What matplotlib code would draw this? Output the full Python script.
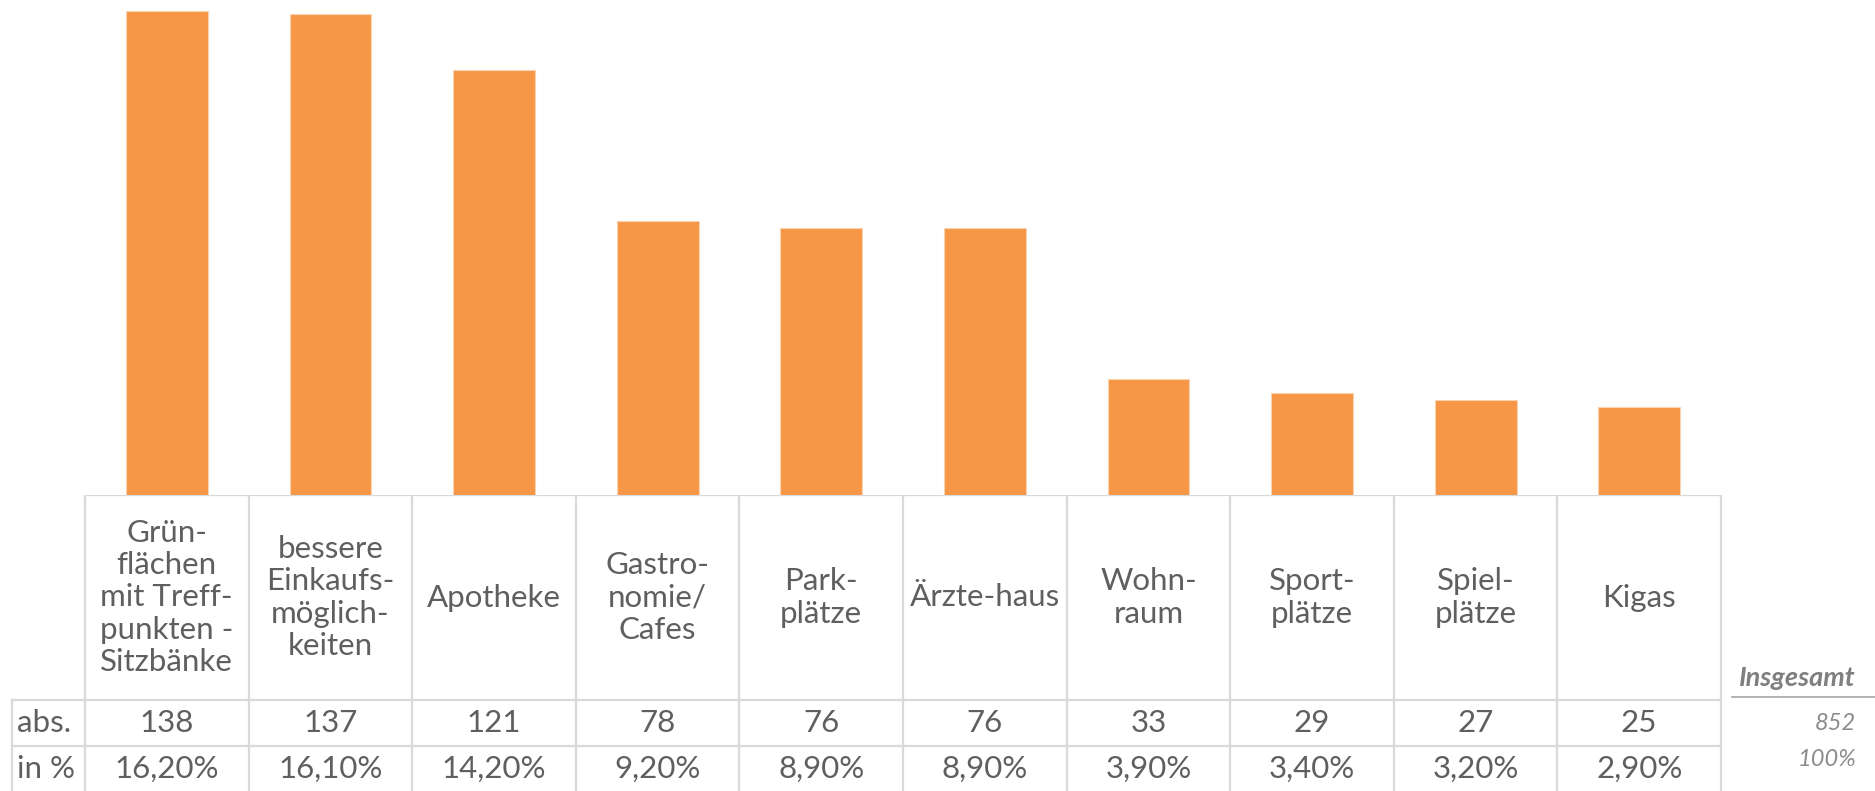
import matplotlib.pyplot as plt

plt.rcParams['font.family'] = ['Lato', 'DejaVu Sans']

categories = ["Grün-\nflächen\nmit Treff-\npunkten -\nSitzbänke",
              "bessere\nEinkaufs-\nmöglich-\nkeiten",
              "Apotheke", "Gastro-\nnomie/\nCafes", "Park-\nplätze",
              "Ärzte-haus", "Wohn-\nraum", "Sport-\nplätze", "Spiel-\nplätze", "Kigas"]
abs_values = [138, 137, 121, 78, 76, 76, 33, 29, 27, 25]
pct_labels = ["16,20%", "16,10%", "14,20%", "9,20%", "8,90%", "8,90%",
              "3,90%", "3,40%", "3,20%", "2,90%"]
total_abs = "852"
total_pct = "100%"

W, H = 1875, 791
orange = "#F79646"
grid = "#D9D9D9"
txt = "#5F5F5F"

fig = plt.figure(figsize=(W / 100, H / 100), dpi=100)

# bar area (pixel layout of the reference)
left, right, base = 85, 1721, 495
ax = fig.add_axes([left / W, 1 - base / H, (right - left) / W, base / H])
n = len(categories)
ax.bar(range(n), abs_values, width=0.5, color=orange, edgecolor="#FAD3B3", linewidth=0.8)
ax.set_xlim(-0.5, n - 0.5)
ax.set_ylim(0, 141)
ax.axis("off")

# data table below the bars
colw = (right - left) / n
tab_h = H - base
tx = fig.add_axes([0, 0, 1, tab_h / H])
tx.set_xlim(-0.5 - left / colw, -0.5 + (W - left) / colw)
tx.set_ylim(tab_h, 0)
tx.axis("off")

r1, r2 = 700 - base, 746 - base
lab_left = -0.5 - (left - 12) / colw
lw = 1.6
tx.plot([-0.5, n - 0.5], [0, 0], color=grid, lw=lw)
tx.plot([lab_left, n - 0.5], [r1, r1], color=grid, lw=lw)
tx.plot([lab_left, n - 0.5], [r2, r2], color=grid, lw=lw)
tx.plot([lab_left, lab_left], [r1, tab_h], color=grid, lw=lw)
for i in range(n + 1):
    tx.plot([i - 0.5, i - 0.5], [0, tab_h], color=grid, lw=lw)

fs = 22.5
for i in range(n):
    tx.text(i, r1 / 2, categories[i], ha="center", va="center", fontsize=fs,
            color=txt, linespacing=1.18)
    tx.text(i, (r1 + r2) / 2, str(abs_values[i]), ha="center", va="center",
            fontsize=fs, color=txt)
    tx.text(i, (r2 + tab_h) / 2, pct_labels[i], ha="center", va="center",
            fontsize=fs, color=txt)

tx.text(lab_left + 0.03, (r1 + r2) / 2, "abs.", ha="left", va="center",
        fontsize=fs, color=txt)
tx.text(lab_left + 0.03, (r2 + tab_h) / 2, "in %", ha="left", va="center",
        fontsize=fs, color=txt)

# totals on the right
rx = -0.5 + (1856 - left) / colw
tx.text(rx, 678 - base, "Insgesamt", ha="right", va="center", fontsize=19.5,
        fontweight="bold", style="italic", color="#7F7F7F")
tx.plot([-0.5 + (1732 - left) / colw, -0.5 + (W - left) / colw], [697 - base, 697 - base],
        color="#A6A6A6", lw=1.2)
tx.text(rx, 723 - base, total_abs, ha="right", va="center", fontsize=17,
        style="italic", color="#8C8C8C")
tx.text(rx, 759 - base, total_pct, ha="right", va="center", fontsize=17,
        style="italic", color="#8C8C8C")

fig.savefig("out.png", dpi=100)
